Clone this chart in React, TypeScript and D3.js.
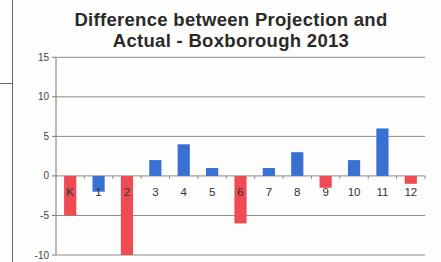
import React from "react";
import * as d3 from "d3";

const categories = ["K", "1", "2", "3", "4", "5", "6", "7", "8", "9", "10", "11", "12"];
const values = [-5, -2, -10, 2, 4, 1, -6, 1, 3, -1.5, 2, 6, -1];
const barColors = ["red", "blue", "red", "blue", "blue", "blue", "red", "blue", "blue", "red", "blue", "blue", "red"];
const yTicks = [15, 10, 5, 0, -5, -10];
const titleLines = ["Difference between Projection and", "Actual - Boxborough 2013"];

const W = 441, H = 262;
const left = 56, right = 425, top = 57.3, bottom = 255;

export default function App() {
  const x = d3.scaleBand<string>().domain(categories).range([left, right]).paddingInner(0).paddingOuter(0);
  const y = d3.scaleLinear().domain([-10, 15]).range([bottom, top]);
  const bw = x.bandwidth() * 0.43;
  const colorMap: Record<string, string> = { red: "#ee4b55", blue: "#3a70d2" };
  return (
    <svg width={W} height={H} style={{ position: "absolute", left: 0, top: 0, background: "#fdfdfb" }}>
      <rect x={0} y={0} width={W} height={H} fill="#fdfdfb" />
      <line x1={12.5} x2={12.5} y1={0} y2={H} stroke="#666" strokeWidth={1} />
      <line x1={0} x2={12.5} y1={83.5} y2={83.5} stroke="#666" strokeWidth={1} />
      {titleLines.map((t, i) => (
        <text key={i} x={231} y={25.5 + i * 21.3} textAnchor="middle" fontFamily="Liberation Sans, Arial, sans-serif" fontWeight="bold" fontSize={18.5} letterSpacing={0.3} fill="#2a2a2a">{t}</text>
      ))}
      {yTicks.map((t) => (
        <g key={t}>
          <line x1={left} x2={right} y1={y(t)} y2={y(t)} stroke="#8a8a8a" strokeWidth={1} />
          <line x1={left - 4} x2={left} y1={y(t)} y2={y(t)} stroke="#777" strokeWidth={1} />
          <text x={left - 7} y={y(t) + 3.5} textAnchor="end" fontFamily="Liberation Sans, Arial, sans-serif" fontSize={10} fill="#444">{t}</text>
        </g>
      ))}
      <line x1={left} x2={left} y1={top} y2={bottom} stroke="#777" strokeWidth={1} />
      {categories.map((c, i) => {
        const v = values[i];
        const cx = (x(c) as number) + x.bandwidth() / 2;
        const y0 = y(0), y1 = y(v);
        return (
          <rect key={c} x={cx - bw / 2} y={Math.min(y0, y1)} width={bw} height={Math.abs(y1 - y0)} fill={colorMap[barColors[i]]} />
        );
      })}
      {categories.map((c, i) => (
        <line key={"t" + c} x1={(x(c) as number) + x.bandwidth()} x2={(x(c) as number) + x.bandwidth()} y1={y(0)} y2={y(0) + 3} stroke="#888" strokeWidth={1} />
      ))}
      {categories.map((c) => (
        <text key={"l" + c} x={(x(c) as number) + x.bandwidth() / 2} y={y(0) + 20} textAnchor="middle" fontFamily="Liberation Sans, Arial, sans-serif" fontSize={11.5} fill="#333">{c}</text>
      ))}
    </svg>
  );
}
